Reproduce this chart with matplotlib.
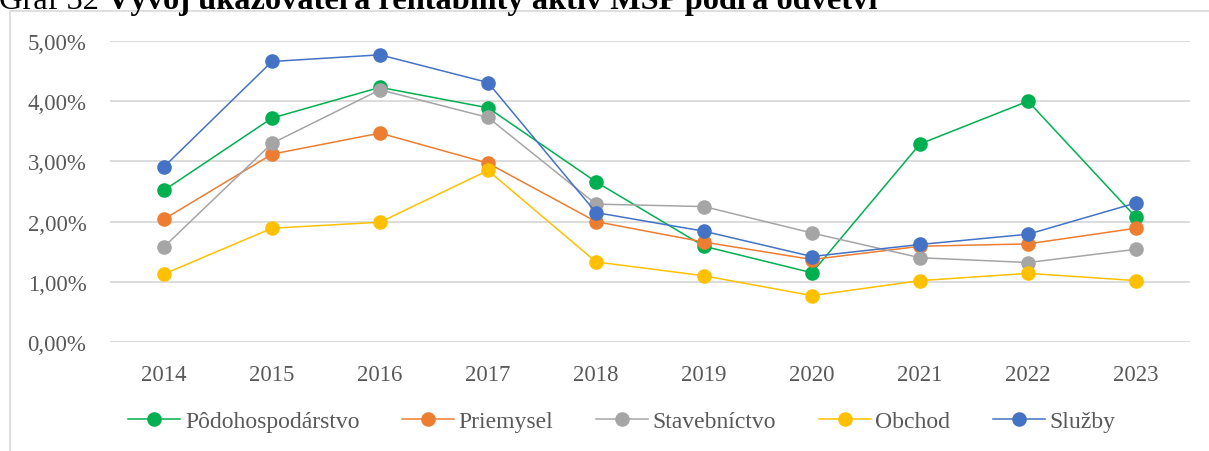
import matplotlib
matplotlib.use("Agg")
import matplotlib.pyplot as plt
from matplotlib.patches import Rectangle
from matplotlib.ticker import FuncFormatter

years = ["2014", "2015", "2016", "2017", "2018", "2019", "2020", "2021", "2022", "2023"]
podohospodarstvo = [2.52, 3.72, 4.23, 3.89, 2.66, 1.59, 1.15, 3.29, 4.00, 2.07]
priemysel = [2.04, 3.12, 3.47, 2.97, 2.00, 1.66, 1.37, 1.59, 1.63, 1.89]
stavebnictvo = [1.58, 3.30, 4.19, 3.73, 2.29, 2.25, 1.81, 1.40, 1.32, 1.54]
obchod = [1.13, 1.89, 1.99, 2.85, 1.33, 1.10, 0.77, 1.02, 1.14, 1.02]
sluzby = [2.91, 4.66, 4.77, 4.31, 2.15, 1.84, 1.42, 1.62, 1.79, 2.31]

series_names = ["Pôdohospodárstvo", "Priemysel", "Stavebníctvo", "Obchod", "Služby"]
series_values = [podohospodarstvo, priemysel, stavebnictvo, obchod, sluzby]
colors = ["#00B050", "#ED7D31", "#A5A5A5", "#FFC000", "#4472C4"]

plt.rcParams['font.family'] = ['Liberation Serif', 'DejaVu Serif']

W, H = 1209, 452
fig = plt.figure(figsize=(W / 100, H / 100), dpi=100)

# chart frame (top and left edges visible)
fig.patches.append(Rectangle((9.5 / W, -0.1), 1.2, (H - 12) / H + 0.1,
                             transform=fig.transFigure, fill=False,
                             edgecolor="#D9D9D9", linewidth=1.2))

left, right = 110 / W, 1190 / W
bottom, top = (H - 343) / H, (H - 42) / H
ax = fig.add_axes([left, bottom, right - left, top - bottom])

x = list(range(len(years)))
for name, vals, c in zip(series_names, series_values, colors):
    ax.plot(x, vals, color=c, linewidth=1.1, marker="o", markersize=10.5,
            markeredgewidth=0, label=name, zorder=3)

ax.set_xlim(-0.5, len(years) - 0.5)
ax.set_ylim(0, 5)
ax.set_yticks([0, 1, 2, 3, 4, 5])
ax.yaxis.set_major_formatter(FuncFormatter(lambda v, p: f"{v:.2f}".replace(".", ",") + "%"))
ax.set_xticks(x)
ax.set_xticklabels(years)
ax.grid(axis="y", color="#D9D9D9", linewidth=1.3)
ax.set_axisbelow(True)
for s in ax.spines.values():
    s.set_visible(False)
ax.tick_params(axis="both", length=0, labelsize=16.5, labelcolor="#595959")
ax.tick_params(axis="y", pad=17)
ax.tick_params(axis="x", pad=16)

leg = fig.legend(loc="center", bbox_to_anchor=(0.5145, (H - 422) / H), ncol=5,
                 frameon=False, fontsize=17, handlelength=2.2, handletextpad=0.2,
                 columnspacing=1.8)
for t in leg.get_texts():
    t.set_color("#595959")

# title (partly cut off at the top, as in the source)
tx = fig.text(-1 / W, (H - 9) / H, "Graf 32 ", fontsize=23.3, color="black",
              ha="left", va="baseline")
fig.canvas.draw()
bb = tx.get_window_extent()
fig.text(bb.x1 / W, (H - 9) / H, "Vývoj ukazovateľa rentability aktív MSP podľa odvetví",
         fontsize=23.3, fontweight="bold", color="black", ha="left", va="baseline")

fig.savefig("out.png", dpi=100)
